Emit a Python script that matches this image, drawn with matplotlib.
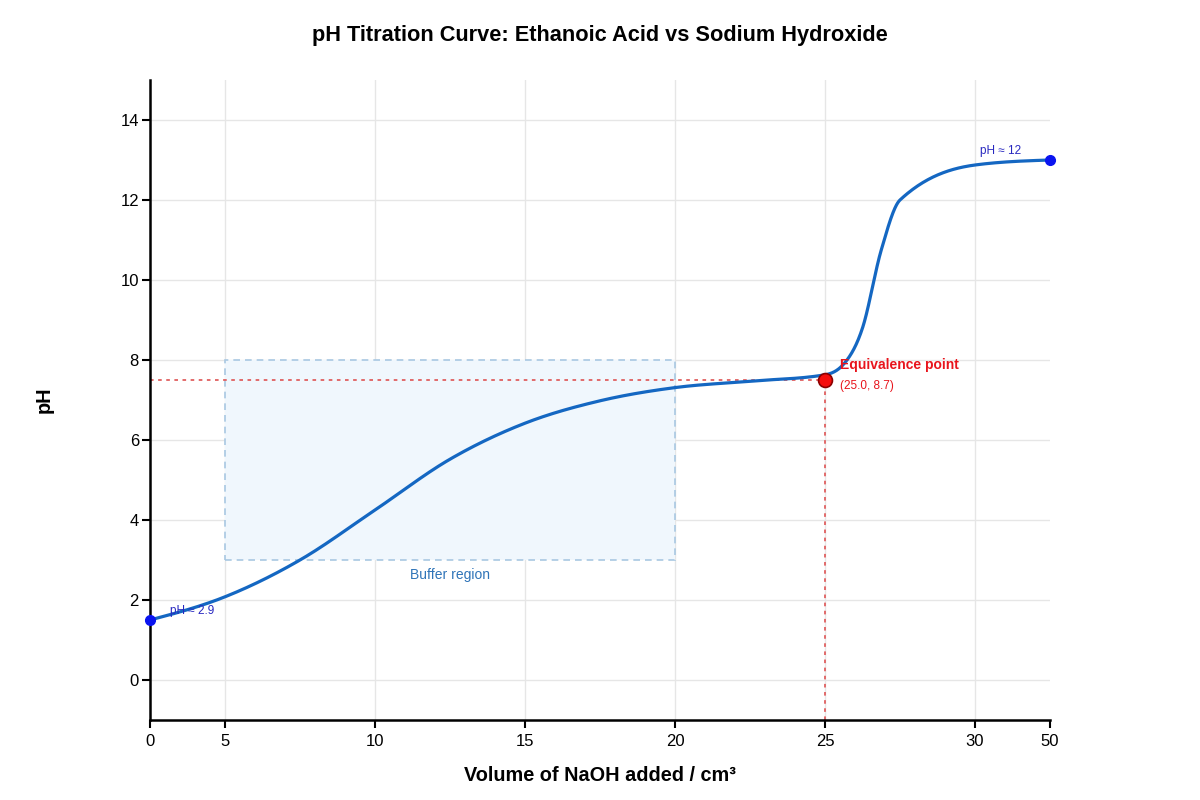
import numpy as np
import matplotlib
matplotlib.use("Agg")
import matplotlib.pyplot as plt
from matplotlib.patches import Rectangle

plt.rcParams['font.family'] = ['Liberation Sans', 'DejaVu Sans']

# ---- data ----
tick_values = [0, 5, 10, 15, 20, 25, 30, 50]
tick_positions = [0, 0.5, 1.5, 2.5, 3.5, 4.5, 5.5, 6.0]
y_ticks = [0, 2, 4, 6, 8, 10, 12, 14]

volume = [0, 5, 7.5, 10, 12.5, 15, 17.5, 20, 22.5, 25, 25.625, 26.25, 26.875, 27.5, 30, 50]
ph = [1.5, 2.08, 3.0, 4.25, 5.52, 6.42, 6.98, 7.31, 7.47, 7.63, 7.9, 8.8, 10.75, 12.0, 12.875, 13.0]

start_point = (0, 1.5)
end_point = (50, 13.0)
equiv_point = (25, 7.5)
buffer_x = (5, 20)
buffer_y = (3, 8)

title = "pH Titration Curve: Ethanoic Acid vs Sodium Hydroxide"
xlabel = "Volume of NaOH added / cm\u00b3"
ylabel = "pH"


def xpos(v):
    return np.interp(v, tick_values, tick_positions)


def monotone_x(x, y, n=60):
    x = np.asarray(x, float)
    y = np.asarray(y, float)
    h = np.diff(x)
    s = np.diff(y) / h
    t = np.zeros_like(y)
    for i in range(1, len(x) - 1):
        s0, s1 = s[i - 1], s[i]
        p = (s0 * h[i] + s1 * h[i - 1]) / (h[i - 1] + h[i])
        t[i] = (np.sign(s0) + np.sign(s1)) * min(abs(s0), abs(s1), 0.5 * abs(p))
    t[0] = (3 * s[0] - t[1]) / 2
    t[-1] = (3 * s[-1] - t[-2]) / 2
    xs, ys = [], []
    for i in range(len(x) - 1):
        u = np.linspace(0, 1, n)
        h00 = 2 * u**3 - 3 * u**2 + 1
        h10 = u**3 - 2 * u**2 + u
        h01 = -2 * u**3 + 3 * u**2
        h11 = u**3 - u**2
        xs.append(x[i] + u * h[i])
        ys.append(h00 * y[i] + h10 * h[i] * t[i] + h01 * y[i + 1] + h11 * h[i] * t[i + 1])
    return np.concatenate(xs), np.concatenate(ys)


fig = plt.figure(figsize=(12, 8), dpi=100)
ax = fig.add_axes([0.125, 0.1, 0.75, 0.8])
ax.set_xlim(0, 6)
ax.set_ylim(-1, 15)

# grid
for p in tick_positions[1:-1]:
    ax.axvline(p, color='#e6e6e6', lw=1, zorder=0)
for yv in y_ticks:
    ax.axhline(yv, color='#e6e6e6', lw=1, zorder=0)

# buffer region
bx0, bx1 = xpos(buffer_x[0]), xpos(buffer_x[1])
ax.add_patch(Rectangle((bx0, buffer_y[0]), bx1 - bx0, buffer_y[1] - buffer_y[0],
                       facecolor='#f0f7fd', edgecolor='#a9c8e2', lw=1.2,
                       linestyle=(0, (4, 3)), zorder=1))
ax.text((bx0 + bx1) / 2, 2.625, "Buffer region", color='#2f74b8', fontsize=10,
        ha='center', va='center')

# equivalence lines
ex = xpos(equiv_point[0])
ax.plot([0, ex], [equiv_point[1], equiv_point[1]], color='#e06060', lw=1.3,
        linestyle=(0, (2, 2.5)), zorder=2)
ax.plot([ex, ex], [-1, equiv_point[1]], color='#e06060', lw=1.3,
        linestyle=(0, (2, 2.5)), zorder=2)

# curve
cx, cy = monotone_x(xpos(volume), ph)
ax.plot(cx, cy, color='#1467c2', lw=2.3, zorder=3, solid_capstyle='round')

# points
ax.plot([xpos(start_point[0]), xpos(end_point[0])], [start_point[1], end_point[1]],
        'o', color='#0a14f0', ms=7, zorder=4, clip_on=False)
ax.plot([ex], [equiv_point[1]], 'o', markerfacecolor='#f50d0d',
        markeredgecolor='#8b0000', markeredgewidth=1.2, ms=10, zorder=5)

ax.text(0.133, 1.725, "pH \u2248 2.9", color='#2828c0', fontsize=8.5, ha='left', va='center')
ax.text(5.533, 13.225, "pH \u2248 12", color='#2828c0', fontsize=8.5, ha='left', va='center')
ax.text(4.6, 7.875, "Equivalence point", color='#e8141c', fontsize=10,
        fontweight='bold', ha='left', va='center')
ax.text(4.6, 7.35, "(25.0, 8.7)", color='#e8141c', fontsize=8.5, ha='left', va='center')

# axes styling
ax.set_xticks(tick_positions)
ax.set_xticklabels([str(v) for v in tick_values])
ax.set_yticks(y_ticks)
ax.tick_params(axis='both', direction='out', length=6, width=1.5, labelsize=12,
               colors='black')
ax.tick_params(axis='y', pad=2)
ax.tick_params(axis='x', pad=4)
for s in ['top', 'right']:
    ax.spines[s].set_visible(False)
for s in ['left', 'bottom']:
    ax.spines[s].set_linewidth(1.8)

fig.text(0.5, 0.955, title, ha='center', va='center', fontsize=15.7, fontweight='bold')
fig.text(0.5, 0.031, xlabel, ha='center', va='center', fontsize=14.3, fontweight='bold')
fig.text(0.037, 0.5, ylabel, ha='center', va='center', fontsize=14.3, fontweight='bold',
         rotation=90)

fig.savefig('out.png', dpi=100)
